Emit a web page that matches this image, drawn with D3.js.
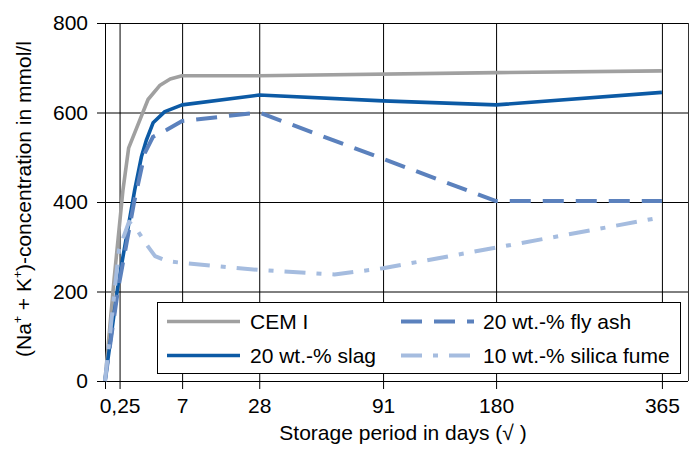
<!DOCTYPE html>
<html><head><meta charset="utf-8">
<script src="https://cdn.jsdelivr.net/npm/d3@7"></script>
<style>
html,body{margin:0;padding:0;background:#fff;}
svg{display:block;font-family:"Liberation Sans",Arial,sans-serif;}
</style></head>
<body>
<svg id="chart" width="694" height="450"></svg>
<script>
// ---- data (days, concentration mmol/l) ----
const cemDays   = [0, 0.096, 0.38, 0.66, 2.18, 3.57, 5.0, 7, 28, 180, 365];
const cemVals   = [0, 226, 427, 521, 629, 661, 675, 682, 682, 689, 693];
const slagDays  = [0, 0.2, 1.04, 1.56, 2.01, 2.72, 4.21, 7, 28, 91, 180, 365];
const slagVals  = [0, 215, 427, 501, 538, 577, 602, 617, 639, 626, 617, 645];
const flyDays   = [0, 0.2, 1.0, 1.86, 2.72, 4.44, 7, 28, 180, 365];
const flyVals   = [0, 205, 400, 509, 546, 561, 581, 600, 402, 402];
const sfDays    = [0, 0.23, 0.68, 1.29, 2.0, 2.95, 4.5, 7, 28, 62, 91, 180, 365];
const sfVals    = [0, 293, 356, 334, 306, 279, 268, 264, 248, 238, 252, 298, 366];

const seriesNames = ["CEM I", "20 wt.-% slag", "20 wt.-% fly ash", "10 wt.-% silica fume"];
const xTicks = [0, 0.25, 7, 28, 91, 180, 365];
const xTickLabels = ["", "0,25", "7", "28", "91", "180", "365"];
const yTicks = [0, 200, 400, 600, 800];

// ---- styles ----
const styles = [
  {color:"#a0a0a0", dash:null, width:3.6},
  {color:"#0c5aa5", dash:null, width:3.6},
  {color:"#5b81bd", dash:"21,12", width:4},
  {color:"#a5bcdf", dash:"21,11,5,11", width:4}
];
const series = [
  {days:cemDays, vals:cemVals},
  {days:slagDays, vals:slagVals},
  {days:flyDays, vals:flyVals},
  {days:sfDays, vals:sfVals}
];

const svg = d3.select("#chart");
svg.append("rect").attr("width",694).attr("height",450).attr("fill","#fff");

const x = d3.scaleSqrt().domain([0, 400]).range([105, 688]);
const y = d3.scaleLinear().domain([0, 800]).range([381, 23]);

// x axis with vertical gridlines
const xAxis = d3.axisBottom(x).tickValues(xTicks)
  .tickFormat((d,i)=>xTickLabels[i])
  .tickSizeInner(-(y(0)+8-y(800))).tickSizeOuter(0).tickPadding(9);
const gx = svg.append("g").attr("transform",`translate(0,${y(0)+8})`).call(xAxis);
gx.select(".domain").remove();
gx.selectAll(".tick line").attr("stroke","#000");
gx.selectAll(".tick text").attr("font-size",21).attr("fill","#000")
  .attr("font-family","Liberation Sans, Arial, sans-serif");

// y axis with horizontal gridlines
const yAxis = d3.axisLeft(y).tickValues(yTicks)
  .tickSizeInner(-(x(400)-(x(0)-8))).tickSizeOuter(0).tickPadding(9);
const gy = svg.append("g").attr("transform",`translate(${x(0)-8},0)`).call(yAxis);
gy.select(".domain").remove();
gy.selectAll(".tick line").attr("stroke","#000");
gy.selectAll(".tick text").attr("font-size",21).attr("fill","#000")
  .attr("font-family","Liberation Sans, Arial, sans-serif");

// right border
svg.append("line").attr("x1",Math.round(x(400))+0.5).attr("x2",Math.round(x(400))+0.5)
  .attr("y1",y(800)).attr("y2",y(0)).attr("stroke","#333").attr("stroke-width",1);

// lines
const line = d3.line().x(d=>x(d[0])).y(d=>y(d[1]));
series.forEach((s,i)=>{
  const pts = s.days.map((d,j)=>[d, s.vals[j]]);
  svg.append("path").attr("d",line(pts)).attr("fill","none")
    .attr("stroke",styles[i].color).attr("stroke-width",styles[i].width)
    .attr("stroke-linejoin","round")
    .attr("stroke-dasharray",styles[i].dash);
});

// legend
const lg = svg.append("g");
lg.append("rect").attr("x",157.5).attr("y",302.5).attr("width",523).attr("height",71)
  .attr("fill","#fff").attr("stroke","#000").attr("stroke-width",1);
const legPos = [
  {lx:167, ty:321.5, tx:250},
  {lx:167, ty:355.5, tx:250},
  {lx:401, ty:321.5, tx:483},
  {lx:401, ty:355.5, tx:483}
];
seriesNames.forEach((n,i)=>{
  const p = legPos[i];
  lg.append("line").attr("x1",p.lx).attr("x2",p.lx+73).attr("y1",p.ty).attr("y2",p.ty)
    .attr("stroke",styles[i].color).attr("stroke-width",styles[i].width)
    .attr("stroke-dasharray",styles[i].dash);
  lg.append("text").attr("x",p.tx).attr("y",p.ty+7.5).attr("font-size",21)
    .attr("fill","#000").text(n);
});

// axis titles
svg.append("text").attr("x",403).attr("y",440).attr("text-anchor","middle")
  .attr("font-size",21).attr("fill","#000").text("Storage period in days (\u221A )");

const yt = svg.append("text").attr("transform","translate(31,199) rotate(-90)")
  .attr("text-anchor","middle").attr("font-size",21).attr("fill","#000");
yt.append("tspan").text("(Na");
yt.append("tspan").attr("font-size",12).attr("dy",-9).text("+");
yt.append("tspan").attr("dy",9).text(" + K");
yt.append("tspan").attr("font-size",12).attr("dy",-9).text("+");
yt.append("tspan").attr("dy",9).text(")-concentration in mmol/l");
</script>
</body></html>
